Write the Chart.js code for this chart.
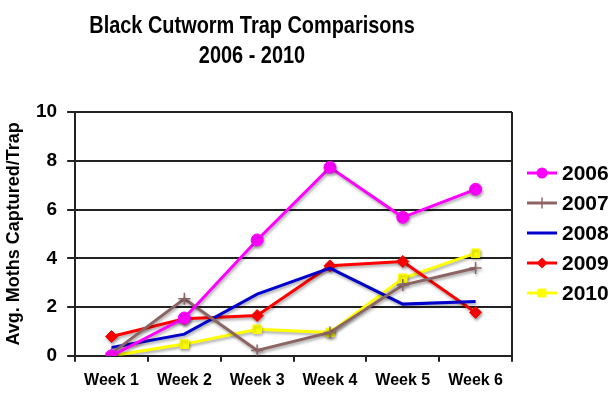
<!DOCTYPE html>
<html>
<head>
<meta charset="utf-8">
<script src="https://cdn.jsdelivr.net/npm/chart.js@4"></script>
<style>
  body { margin: 0; background: #fff; }
  canvas { display: block; }
</style>
</head>
<body>
<canvas id="trapChart" width="615" height="399"></canvas>
<script>
// weeks on the x axis
const weeks = ['Week 1', 'Week 2', 'Week 3', 'Week 4', 'Week 5', 'Week 6'];

// avg moths captured per trap
const y2006 = [0.0, 1.55, 4.75, 7.73, 5.68, 6.83];
const y2007 = [0.1, 2.34, 0.22, 0.96, 2.9, 3.6];
const y2008 = [0.34, 0.89, 2.53, 3.6, 2.12, 2.23];
const y2009 = [0.79, 1.52, 1.65, 3.69, 3.87, 1.78];
const y2010 = [0.0, 0.48, 1.09, 0.96, 3.18, 4.21];

const yTicks = [0, 2, 4, 6, 8, 10];
const titleLines = ['Black Cutworm Trap Comparisons', '2006 - 2010'];

const SANS = "'Liberation Sans', Arial, sans-serif";

function series(label, data, color, style) {
    return {
        label: label,
        data: data,
        borderColor: color,
        backgroundColor: color,
        borderWidth: 3,
        pointStyle: style || false,
        pointRadius: style ? 6 : 0,
        pointBorderWidth: style === 'cross' ? 1.5 : 1,
        tension: 0
    };
}

// soft drop shadow under lines, like the old office chart
const shadowPlugin = {
    id: 'shadow',
    beforeDatasetsDraw(chart) {
        const c = chart.ctx;
        c.save();
        c.shadowColor = 'rgba(0,0,0,0.35)';
        c.shadowBlur = 3;
        c.shadowOffsetX = 1;
        c.shadowOffsetY = 2;
    },
    afterDatasetsDraw(chart) {
        chart.ctx.restore();
    }
};

// condensed two-line title (no narrow font installed, so squeeze it)
const titlePlugin = {
    id: 'condTitle',
    afterDraw(chart) {
        const c = chart.ctx;
        c.save();
        c.fillStyle = '#000';
        c.font = 'bold 24px ' + SANS;
        c.textAlign = 'center';
        c.textBaseline = 'alphabetic';
        c.translate(252, 0);
        c.scale(0.83, 1);
        c.fillText(titleLines[0], 0, 33);
        c.fillText(titleLines[1], 0, 63);
        c.restore();
    }
};

// right border of the plot box + legend with line and marker
const boxLegendPlugin = {
    id: 'boxLegend',
    afterDraw(chart) {
        const c = chart.ctx;
        const a = chart.chartArea;
        c.save();
        c.strokeStyle = '#222';
        c.lineWidth = 2;
        c.beginPath();
        c.moveTo(a.right, a.top);
        c.lineTo(a.right, a.bottom);
        c.stroke();

        const x0 = 527, x1 = 557, cx = (x0 + x1) / 2;
        let y = 173;
        chart.data.datasets.forEach(ds => {
            c.strokeStyle = ds.borderColor;
            c.lineWidth = 3;
            c.beginPath();
            c.moveTo(x0, y);
            c.lineTo(x1, y);
            c.stroke();
            c.fillStyle = ds.backgroundColor;
            c.lineWidth = ds.pointBorderWidth;
            const r = ds.pointRadius - 0.5;
            c.beginPath();
            if (ds.pointStyle === 'circle') {
                c.arc(cx, y, r, 0, Math.PI * 2);
                c.fill();
            } else if (ds.pointStyle === 'rectRot') {
                c.moveTo(cx, y - r); c.lineTo(cx + r, y); c.lineTo(cx, y + r); c.lineTo(cx - r, y);
                c.closePath(); c.fill();
            } else if (ds.pointStyle === 'rect') {
                c.fillRect(cx - r * 0.8, y - r * 0.8, 1.6 * r, 1.6 * r);
            } else if (ds.pointStyle === 'cross') {
                c.moveTo(cx, y - r); c.lineTo(cx, y + r);
                c.stroke();
            }
            c.fillStyle = '#000';
            c.font = 'bold 21px ' + SANS;
            c.textBaseline = 'middle';
            c.textAlign = 'left';
            c.fillText(ds.label, 562, y + 1);
            y += 30;
        });
        c.restore();
    }
};

new Chart(document.getElementById('trapChart'), {
    type: 'line',
    data: {
        labels: weeks,
        datasets: [
            series('2006', y2006, '#FF00FF', 'circle'),
            series('2007', y2007, '#8C6464', 'cross'),
            series('2008', y2008, '#0000CC', null),
            series('2009', y2009, '#FF0000', 'rectRot'),
            series('2010', y2010, '#FFFF00', 'rect')
        ]
    },
    options: {
        responsive: false,
        animation: false,
        layout: { padding: { left: 5, right: 103, bottom: 0, top: 112 } },
        plugins: {
            legend: { display: false },
            tooltip: { enabled: false },
            title: { display: false }
        },
        scales: {
            x: {
                offset: true,
                grid: {
                    offset: true,
                    drawOnChartArea: false,
                    drawTicks: true,
                    tickLength: 6,
                    color: '#222',
                    lineWidth: 2
                },
                border: { color: '#222', width: 2 },
                ticks: {
                    color: '#000',
                    font: { family: SANS, size: 16, weight: 'bold' },
                    padding: 9,
                    maxRotation: 0
                }
            },
            y: {
                min: 0,
                max: 10,
                afterBuildTicks(axis) {
                    axis.ticks = yTicks.map(v => ({ value: v }));
                },
                grid: {
                    color: '#222',
                    lineWidth: 2,
                    tickLength: 8
                },
                border: { color: '#222', width: 2 },
                ticks: {
                    color: '#000',
                    font: { family: SANS, size: 19, weight: 'bold' },
                    padding: 10
                },
                title: {
                    display: true,
                    text: 'Avg. Moths Captured/Trap',
                    color: '#000',
                    font: { family: SANS, size: 18, weight: 'bold', lineHeight: 1 },
                    padding: { top: 0, bottom: 3 }
                }
            }
        }
    },
    plugins: [shadowPlugin, titlePlugin, boxLegendPlugin]
});
</script>
</body>
</html>
